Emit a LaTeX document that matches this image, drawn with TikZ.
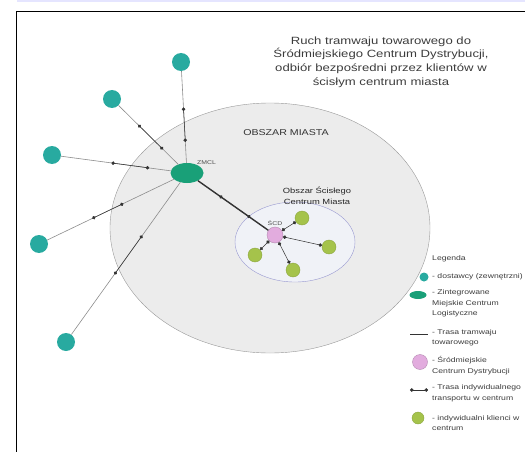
\documentclass[tikz,border=0pt]{standalone}
\usepackage{fontspec}
\setmainfont{Liberation Sans}[FakeStretch=1.25]
\usepackage{tikz}
\usetikzlibrary{calc}
\usetikzlibrary{shapes.geometric}
\usetikzlibrary{arrows.meta}

\definecolor{dostawcaC}{RGB}{40,170,160}
\definecolor{zmclC}{RGB}{25,160,120}
\definecolor{scdC}{RGB}{226,172,222}
\definecolor{klientC}{RGB}{165,195,75}
\definecolor{miastoC}{RGB}{236,236,236}
\definecolor{centrumC}{RGB}{240,242,247}
\definecolor{tekstC}{RGB}{60,60,60}

\begin{document}
\begin{tikzpicture} [
    x = 1pt, y = -1pt,
    dostawca/.style = {circle, fill = dostawcaC, minimum size = 18pt, inner sep = 0pt},
    zmcl/.style = {ellipse, fill = zmclC, minimum width = 33pt, minimum height = 20pt, inner sep = 0pt},
    scd/.style = {circle, fill = scdC, draw = scdC!80!black, thin, minimum size = 16pt, inner sep = 0pt},
    klient/.style = {circle, fill = klientC, draw = klientC!85!black, thin, minimum size = 14pt, inner sep = 0pt},
    trasa/.style = {draw = black!45, line width = 0.6pt},
    tramwaj/.style = {draw = black!80, line width = 1.4pt},
    kropki/.style = {draw = black!80, line width = 0.5pt, {Circle[length = 3.5pt]}-{Circle[length = 3.5pt]}},
    opis/.style = {text = tekstC, inner sep = 0pt, align = left, anchor = west,
        font = \fontsize{6.9}{10.5}\selectfont}
]
\useasboundingbox (0,0) rectangle (525,452);

% frame
\fill [blue!10] (17,0) rectangle (525,2.5);
\draw [line width = 1pt] (16,452) -- (16,11.5) -- (525,11.5);

% title
\node (tytul) at (381,62) [text = tekstC, align = center, font = \fontsize{10.5}{13.6}\selectfont]
    {Ruch tramwaju towarowego do\\Śródmiejskiego Centrum Dystrybucji,\\odbiór bezpośredni przez klientów w\\ścisłym centrum miasta};

% areas
\draw [fill = miastoC, draw = black!40, thin] (270,228) ellipse (160 and 125);
\node (miasto) at (286,133) [text = black!80, font = \fontsize{8.5}{10}\selectfont] {OBSZAR MIASTA};
\draw [fill = centrumC, draw = black!45!blue!40, thin] (295,242) ellipse (60 and 40);
\node (centrum) at (317,196) [text = black!85, align = center, font = \fontsize{7.5}{11}\selectfont]
    {Obszar Ścisłego\\Centrum Miasta};

% suppliers and centres
\node (D1) at (181,62) [dostawca] {};
\node (D2) at (112,99) [dostawca] {};
\node (D3) at (52,155) [dostawca] {};
\node (D4) at (39,244) [dostawca] {};
\node (D5) at (66,342) [dostawca] {};
\node (ZMCL) at (187,173) [zmcl, label = {[text = black!70, font = \fontsize{5.5}{6}\selectfont, xshift = -2pt, yshift = -4pt]above right:ZMCL}] {};
\node (SCD) at (275,235) [scd, label = {[text = black!70, font = \fontsize{5.5}{6}\selectfont, yshift = -2pt]above:ŚCD}] {};
\node (K1) at (302,218) [klient] {};
\node (K2) at (329,247) [klient] {};
\node (K3) at (293,270) [klient] {};
\node (K4) at (255,255) [klient] {};

% supplier routes
\draw [trasa] (D1) -- (ZMCL);
\draw [trasa] (D2) -- (ZMCL);
\draw [trasa] (D3) -- (ZMCL);
\draw [trasa] (D4) -- (ZMCL);
\draw [trasa] (D5) -- (ZMCL);
\draw [kropki] ($(D1)!0.41!(ZMCL)$) -- ($(D1)!0.72!(ZMCL)$);
\draw [kropki] ($(D2)!0.35!(ZMCL)$) -- ($(D2)!0.68!(ZMCL)$);
\draw [kropki] ($(D3)!0.44!(ZMCL)$) -- ($(D3)!0.72!(ZMCL)$);
\draw [kropki] ($(D4)!0.36!(ZMCL)$) -- ($(D4)!0.57!(ZMCL)$);
\draw [kropki] ($(D5)!0.40!(ZMCL)$) -- ($(D5)!0.63!(ZMCL)$);

% tram route
\draw [tramwaj] (ZMCL) -- (SCD);
\draw [kropki] ($(ZMCL)!0.37!(SCD)$) -- ($(ZMCL)!0.72!(SCD)$);

% last mile
\draw [kropki] (SCD) -- (K1);
\draw [kropki] (SCD) -- (K2);
\draw [kropki] (SCD) -- (K3);
\draw [kropki] (SCD) -- (K4);

% legend
\node (leg) at (432,259) [opis] {Legenda};
\node (legD) at (424,277) [dostawca, minimum size = 9pt] {};
\node (legDt) at (432,277) [opis] {- dostawcy (zewnętrzni)};
\node (legZ) at (418,295) [zmcl, minimum width = 17pt, minimum height = 8pt] {};
\node (legZt) at (432,303.5) [opis] {- Zintegrowane\\Miejskie Centrum\\Logistyczne};
\coordinate (legTa) at (410,334);
\coordinate (legTb) at (428,334);
\draw [draw = black!80, line width = 1pt] (legTa) -- (legTb);
\node (legTt) at (432,337.5) [opis] {- Trasa tramwaju\\towarowego};
\node (legS) at (420,362) [scd, minimum size = 15pt] {};
\node (legSt) at (432,365.5) [opis] {- Śródmiejskie\\Centrum Dystrybucji};
\coordinate (legKa) at (410,390);
\coordinate (legKb) at (428,390);
\draw [kropki] (legKa) -- (legKb);
\node (legKt) at (432,393) [opis] {- Trasa indywidualnego\\transportu w centrum};
\node (legK) at (418,418) [klient, minimum size = 12pt] {};
\node (legKlt) at (432,423) [opis] {- indywidualni klienci w\\centrum};

\end{tikzpicture}
\end{document}
